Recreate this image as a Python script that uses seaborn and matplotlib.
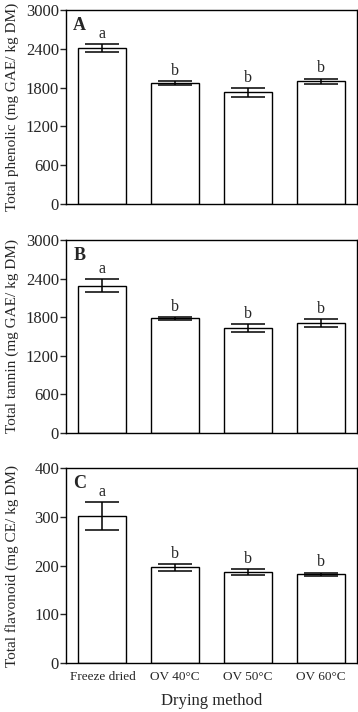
import matplotlib
matplotlib.use("Agg")
import matplotlib.pyplot as plt
import seaborn as sns
import pandas as pd

sns.set_theme(style="ticks")
plt.rcParams['font.family'] = ['Liberation Serif', 'DejaVu Serif']

categories = ["Freeze dried", "OV 40°C", "OV 50°C", "OV 60°C"]
phenolic = [2410, 1875, 1725, 1900]
phenolic_err = [65, 28, 70, 40]
tannin = [2290, 1780, 1634, 1707]
tannin_err = [100, 20, 57, 60]
flavonoid = [302, 196, 187, 182]
flavonoid_err = [28.5, 6.5, 6, 3.5]
letters = ["a", "b", "b", "b"]
panels = ["A", "B", "C"]
ylabels = ["Total phenolic (mg GAE/ kg DM)", "Total tannin (mg GAE/ kg DM)",
           "Total flavonoid (mg CE/ kg DM)"]
yticks = [[0, 600, 1200, 1800, 2400, 3000], [0, 600, 1200, 1800, 2400, 3000],
          [0, 100, 200, 300, 400]]
series = [(phenolic, phenolic_err), (tannin, tannin_err), (flavonoid, flavonoid_err)]

fig = plt.figure(figsize=(3.58, 7.12), dpi=100)
rects = [[0.1844, 0.7135, 0.813, 0.2725],
         [0.1844, 0.3919, 0.813, 0.2710],
         [0.1844, 0.0688, 0.813, 0.2739]]

for i, (vals, errs) in enumerate(series):
    ax = fig.add_axes(rects[i])
    df = pd.DataFrame({"method": categories, "value": vals})
    sns.barplot(data=df, x="method", y="value", ax=ax, color="white",
                edgecolor="black", linewidth=1.0, width=0.66, errorbar=None,
                saturation=1)
    ax.errorbar(range(len(vals)), vals, yerr=errs, fmt="none", ecolor="black",
                elinewidth=1.1, capsize=12.5, capthick=1.1)
    ax.set_ylim(yticks[i][0], yticks[i][-1])
    ax.set_yticks(yticks[i])
    ax.set_xlim(-0.5, 3.5)
    for sp in ax.spines.values():
        sp.set_visible(True)
        sp.set_color("black")
        sp.set_linewidth(1.0)
    ax.tick_params(axis="y", direction="out", length=4, width=1.0, labelsize=12, pad=1)
    ax.tick_params(axis="x", length=0, labelsize=9.5, pad=6)
    ax.set_ylabel(ylabels[i], fontsize=11, labelpad=4)
    ax.yaxis.set_label_coords(-0.16, 0.5)
    for j, (v, e) in enumerate(zip(vals, errs)):
        ax.annotate(letters[j], xy=(j, v + e), xytext=(0, 1.5),
                    textcoords="offset points", ha="center", va="bottom",
                    fontsize=11.5)
    ax.text(0.025, 0.965, panels[i], transform=ax.transAxes, ha="left", va="top",
            fontsize=13, fontweight="bold")
    if i < 2:
        ax.set_xticklabels([])
        ax.set_xlabel("")
    else:
        ax.set_xlabel("Drying method", fontsize=12, labelpad=7)

fig.savefig("out.png", dpi=100)
